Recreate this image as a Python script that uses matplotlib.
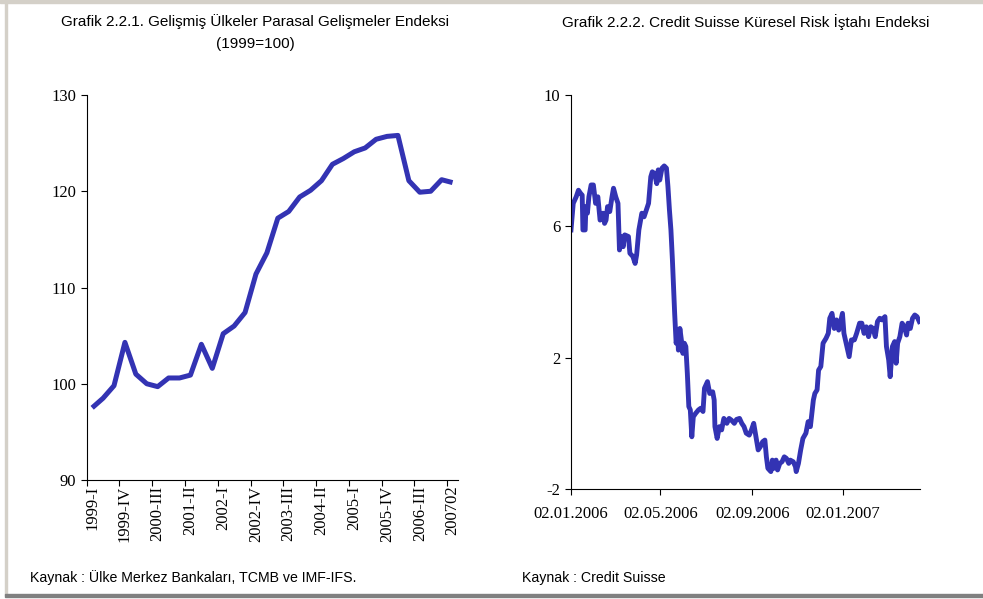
# Gelişmiş ülkeler parasal gelişmeler endeksi ve Credit Suisse risk iştahı endeksi
import numpy as np
import pandas as pd
import matplotlib
matplotlib.use("Agg")
import matplotlib.pyplot as plt
import matplotlib.dates as mdates
from matplotlib.patches import Rectangle

plt.rcParams["axes.unicode_minus"] = False

# --- veri: grafik 2.2.1 (çeyreklik, 1999=100)
ceyrekler = []
for yil in range(1999, 2007):
    for q in ["I", "II", "III", "IV"]:
        ceyrekler.append(f"{yil}-{q}")
ceyrekler += ["2007-I", "200702"]

endeks = [97.5, 98.5, 99.8, 104.3, 101.0, 100.0, 99.7, 100.6, 100.6, 100.9,
          104.1, 101.6, 105.2, 106.0, 107.4, 111.4, 113.6, 117.2, 117.9, 119.4,
          120.1, 121.1, 122.8, 123.4, 124.1, 124.5, 125.4, 125.7, 125.8, 121.1,
          119.9, 120.0, 121.2, 120.9]

# --- veri: grafik 2.2.2 (02.01.2006'dan itibaren gün, endeks değeri)
baslangic = "2006-01-02"
gun = [0, 3, 7, 10, 13, 15, 16, 19, 20, 22, 24, 27, 30, 33, 36, 39, 43, 45, 47, 49,
       52, 55, 57, 60, 63, 65, 67, 70, 72, 77, 79, 83, 86, 88, 91, 95, 98, 101, 104, 107,
       109, 112, 115, 117, 119, 122, 125, 128, 130, 132, 134, 136, 138, 139, 141, 143, 144, 146, 148, 150,
       152, 154, 156, 158, 160, 162, 164, 167, 171, 174, 177, 179, 183, 186, 190, 192, 193, 196, 199, 202,
       205, 209, 212, 215, 219, 222, 226, 229, 232, 235, 239, 242, 245, 248, 251, 254, 257, 260, 262, 264,
       268, 270, 272, 275, 277, 280, 283, 286, 289, 292, 294, 298, 301, 302, 305, 308, 311, 315, 318, 321,
       325, 327, 330, 332, 335, 338, 342, 345, 347, 350, 353, 356, 359, 362, 364, 366, 369, 373, 376, 380,
       383, 387, 390, 393, 396, 399, 402, 405, 408, 411, 414, 417, 421, 423, 426, 428, 431, 434, 436, 438,
       441, 444, 447, 450, 452, 455, 458, 461, 464, 467]
risk = [5.89, 6.70, 6.90, 7.10, 7.00, 6.95, 5.89, 5.89, 6.60, 6.40, 6.90, 7.26, 7.26, 6.70, 6.90, 6.19, 6.40, 6.09, 6.19, 6.60,
        6.45, 6.90, 7.16, 6.90, 6.70, 5.28, 5.69, 5.38, 5.74, 5.69, 5.18, 5.08, 4.87, 5.13, 5.89, 6.40, 6.29, 6.50, 6.70, 7.51,
        7.66, 7.61, 7.30, 7.72, 7.41, 7.77, 7.84, 7.77, 7.21, 6.50, 5.89, 4.97, 3.86, 3.35, 2.44, 2.74, 2.23, 2.89, 2.54, 2.13,
        2.44, 2.34, 1.52, 0.51, 0.41, -0.41, 0.20, 0.30, 0.41, 0.46, 0.36, 1.07, 1.27, 0.91, 0.96, 0.71, -0.10, -0.46, -0.10, -0.20,
        0.15, 0.00, 0.15, 0.10, 0.00, 0.12, 0.15, 0.00, -0.10, -0.30, -0.36, -0.20, 0.00, -0.41, -0.81, -0.71, -0.56, -0.51, -1.02, -1.37,
        -1.47, -1.12, -1.37, -1.12, -1.42, -1.22, -1.17, -1.02, -1.07, -1.22, -1.12, -1.17, -1.32, -1.47, -1.22, -0.81, -0.46, -0.30, 0.05, -0.10,
        0.71, 0.91, 1.02, 1.62, 1.73, 2.44, 2.59, 2.74, 3.20, 3.35, 2.89, 3.15, 2.84, 3.15, 3.35, 2.74, 2.44, 2.03, 2.54, 2.54,
        2.74, 3.05, 3.05, 2.74, 2.94, 2.64, 2.94, 2.89, 2.64, 3.10, 3.20, 3.15, 3.25, 2.34, 1.93, 1.42, 2.34, 2.49, 1.83, 2.44,
        2.64, 3.05, 2.94, 2.69, 3.05, 2.89, 3.20, 3.30, 3.25, 3.10]

tarih = pd.Timestamp(baslangic) + pd.to_timedelta(gun, unit="D")

renk = "#3333b3"
tick_font = {"family": "Liberation Serif", "size": 12}
baslik_font = ["Liberation Sans", "DejaVu Sans"]

fig = plt.figure(figsize=(9.83, 5.99), dpi=100)
W, H = 983, 599

# çerçeve
fig.patches.append(Rectangle((0, 1 - 3 / H), 1, 3 / H, transform=fig.transFigure,
                             color="#d4d0c8", zorder=0))
fig.patches.append(Rectangle((5 / W, 4 / H), 2 / W, 1 - 4 / H, transform=fig.transFigure,
                             color="#d4d0c8", zorder=0))
fig.patches.append(Rectangle((5 / W, 2 / H), 1, 3 / H, transform=fig.transFigure,
                             color="#808080", zorder=0))


def eksen_stili(ax):
    ax.spines["top"].set_visible(False)
    ax.spines["right"].set_visible(False)
    for s in ["left", "bottom"]:
        ax.spines[s].set_linewidth(0.8)
        ax.spines[s].set_color("black")
    ax.tick_params(which="major", direction="out", length=4, width=0.8, color="black")
    for lab in ax.get_xticklabels(which="both") + ax.get_yticklabels():
        lab.set_fontfamily(tick_font["family"])
        lab.set_fontsize(tick_font["size"])


# --- sol grafik
ax1 = fig.add_axes([86.7 / W, 1 - 480 / H, 371.3 / W, 385 / H])
x = np.arange(len(ceyrekler))
ax1.plot(x, endeks, color=renk, lw=3.6, solid_joinstyle="round", solid_capstyle="butt")
ax1.set_xlim(-0.5, len(ceyrekler) - 0.5)
ax1.set_ylim(90, 130)
ax1.set_yticks([90, 100, 110, 120, 130])
ax1.set_xticks(np.arange(-0.5, len(ceyrekler) - 1, 3))
ax1.set_xticklabels([])
ax1.set_xticks(x[::3], minor=True)
ax1.set_xticklabels([ceyrekler[i] for i in x[::3]], minor=True, rotation=90)
ax1.tick_params(axis="x", which="minor", length=0, pad=4)
eksen_stili(ax1)

# --- sağ grafik
ax2 = fig.add_axes([571 / W, 1 - 489 / H, 349 / W, 394 / H])
ax2.plot(tarih, risk, color=renk, lw=3.5, solid_joinstyle="round")
ax2.set_xlim(pd.Timestamp(baslangic), pd.Timestamp(baslangic) + pd.Timedelta(days=468))
ax2.set_ylim(-2, 10)
ax2.set_yticks([-2, 2, 6, 10])
ax2.set_xticks(pd.to_datetime(["2006-01-02", "2006-05-02", "2006-09-02", "2007-01-02"]))
ax2.xaxis.set_major_formatter(mdates.DateFormatter("%d.%m.%Y"))
ax2.tick_params(axis="x", pad=8)
eksen_stili(ax2)

# başlıklar ve kaynaklar
fig.text(255 / W, 1 - 22 / H, "Grafik 2.2.1. Gelişmiş Ülkeler Parasal Gelişmeler Endeksi",
         ha="center", va="center", fontsize=11, family=baslik_font)
fig.text(255 / W, 1 - 44 / H, "(1999=100)", ha="center", va="center", fontsize=11, family=baslik_font)
fig.text(746 / W, 1 - 22 / H, "Grafik 2.2.2. Credit Suisse Küresel Risk İştahı Endeksi",
         ha="center", va="center", fontsize=11, family=baslik_font)
fig.text(30 / W, 1 - 578 / H, "Kaynak : Ülke Merkez Bankaları, TCMB ve IMF-IFS.",
         ha="left", va="center", fontsize=10.2, family=baslik_font)
fig.text(522 / W, 1 - 578 / H, "Kaynak : Credit Suisse",
         ha="left", va="center", fontsize=10.2, family=baslik_font)

fig.savefig("out.png", dpi=100)
